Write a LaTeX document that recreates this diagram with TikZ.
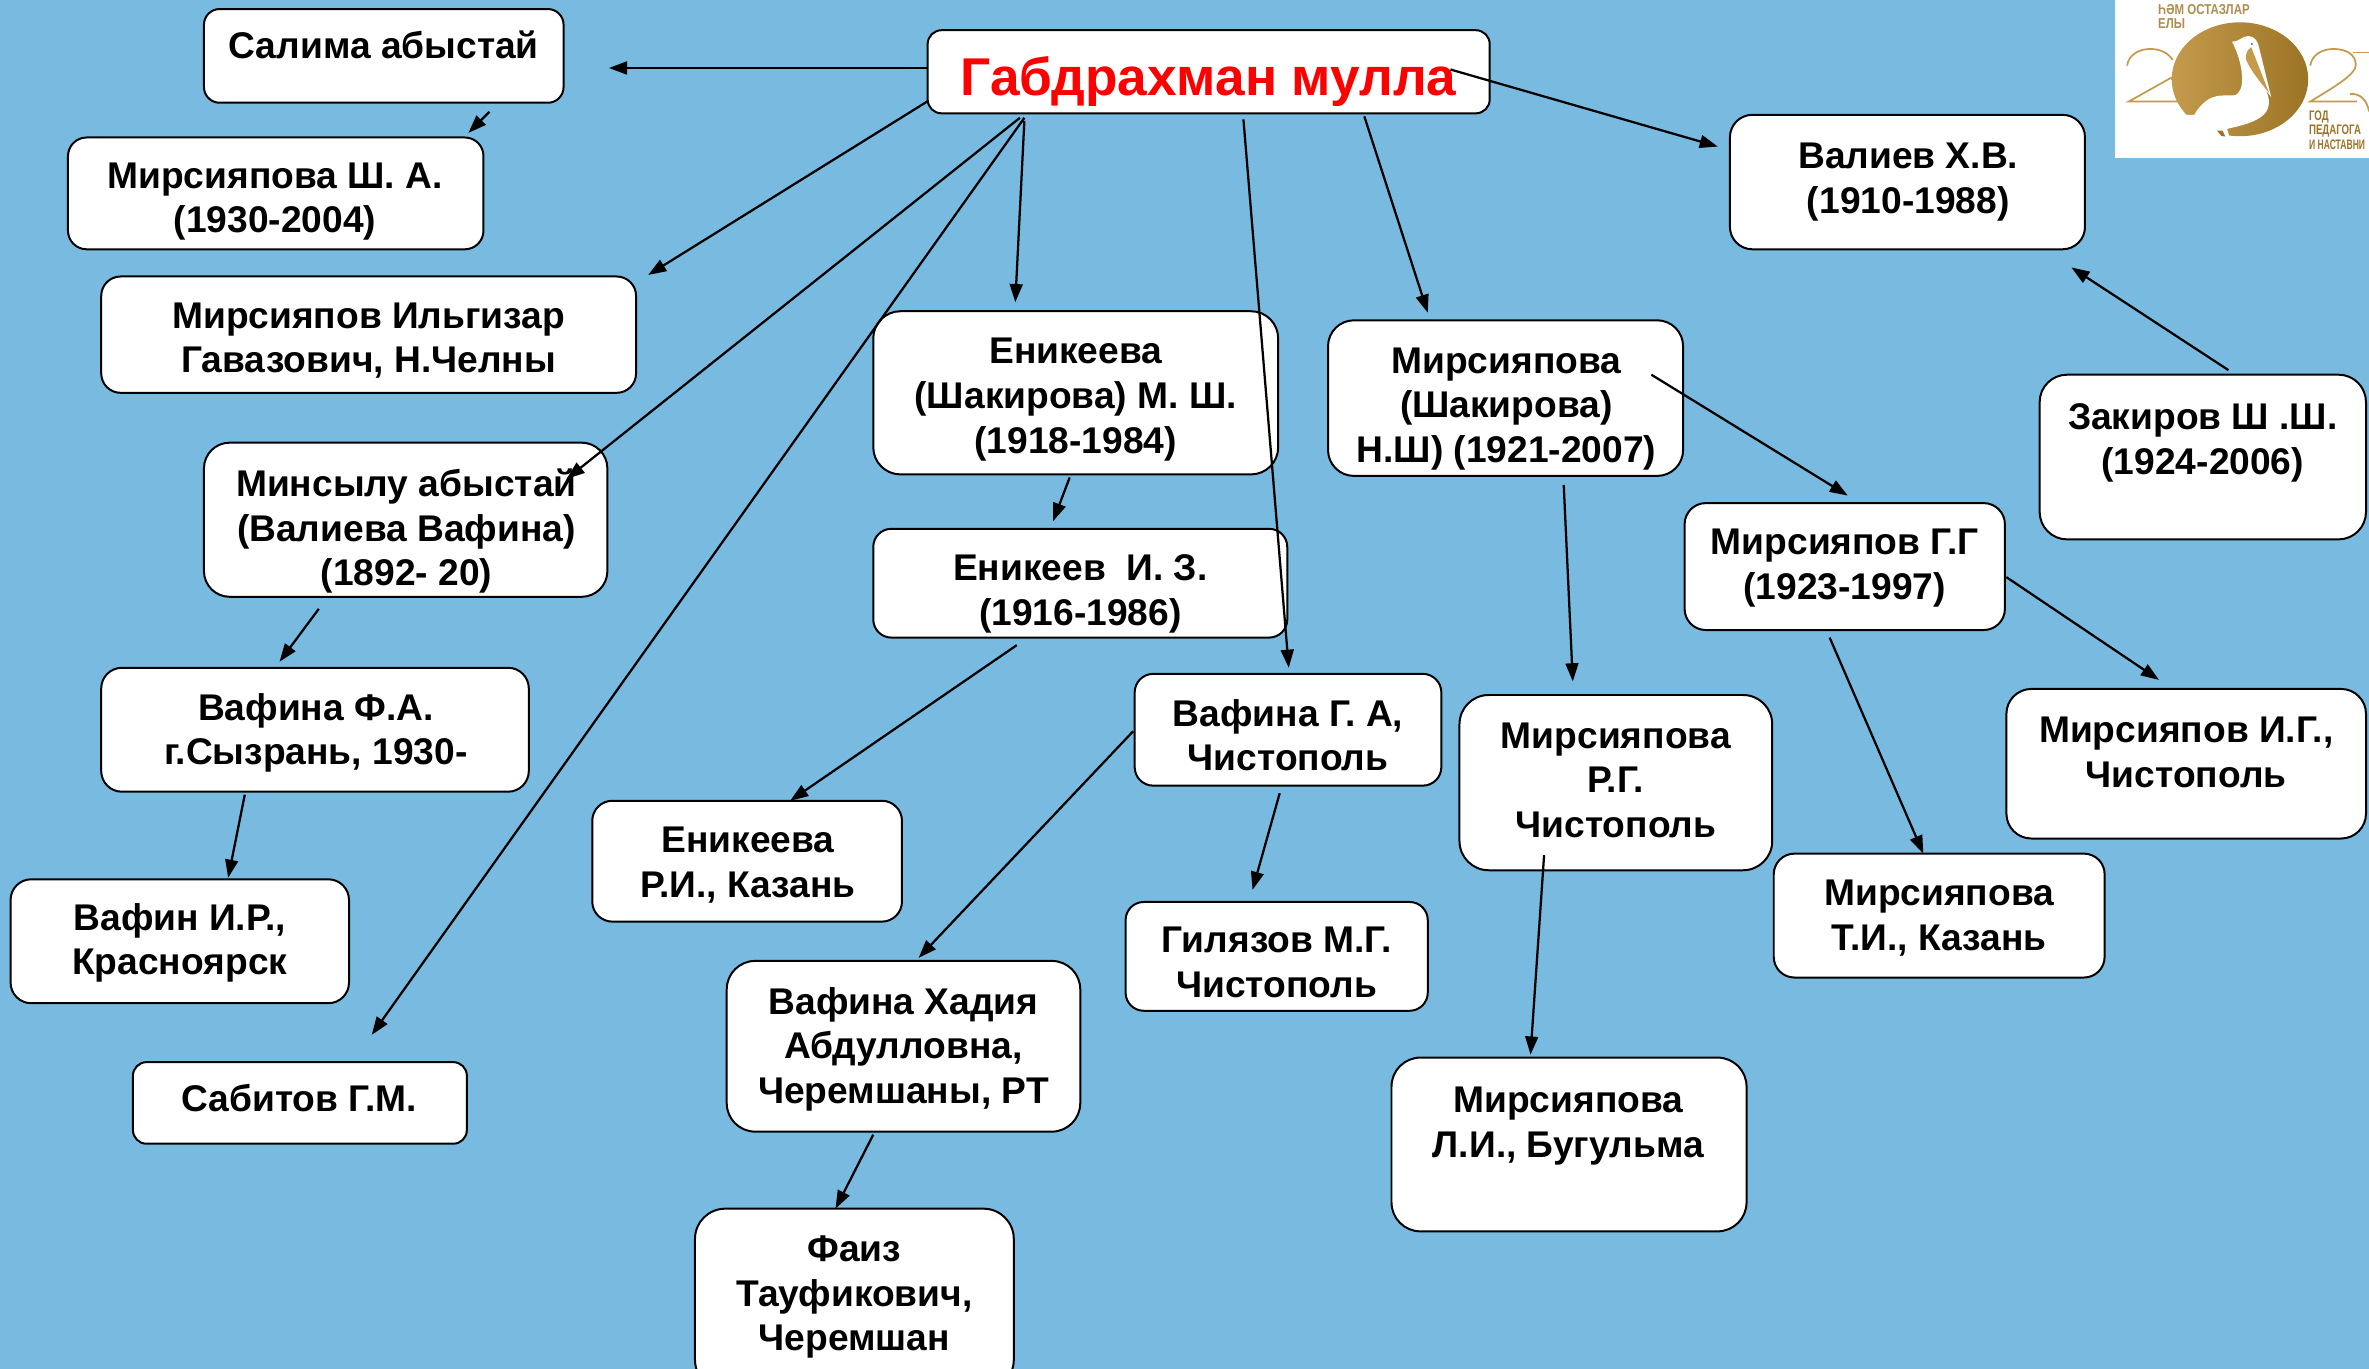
\documentclass[tikz,border=0pt]{standalone}
\usepackage{fontspec}
\setmainfont{Liberation Sans}
\newfontfamily\lgfa[FakeStretch=0.8]{Liberation Sans}
\newfontfamily\lgfb[FakeStretch=0.7]{Liberation Sans}
\newfontfamily\lgfc[FakeStretch=0.62]{Liberation Sans}
\usetikzlibrary{arrows.meta,calc}
\definecolor{bgblue}{HTML}{79BBE0}
\definecolor{goldA}{HTML}{C49B4C}
\definecolor{goldB}{HTML}{9C7426}
\definecolor{goldT}{HTML}{AD8D50}
\tikzset{
  boxn/.style={draw=black,line width=0.75pt,fill=white,inner sep=0pt},
  txtn/.style={font=\fontsize{14}{16.8}\selectfont\bfseries,align=center,inner sep=0pt,text=black},
  titlen/.style={font=\fontsize{20.03}{24}\selectfont\bfseries,align=center,inner sep=0pt,text=red},
  arr/.style={draw=black,line width=0.85pt,-{Triangle[length=0.24cm,width=0.17cm]}},
  logot/.style={font=\lgfa\fontsize{5.4}{6}\selectfont\bfseries,text=goldT,anchor=west,inner sep=0pt},
  logos/.style={font=\lgfb\fontsize{5.2}{6}\selectfont\bfseries,text=goldB,anchor=west,inner sep=0pt},
  logon/.style={font=\lgfc\fontsize{5.2}{6}\selectfont\bfseries,text=goldB,anchor=west,inner sep=0pt},
  logol/.style={draw=goldA,line width=0.65pt}
}
% name, x0,y0,x1,y1, text x, text y, text
\newcommand{\bx}[8]{%
  \pgfmathsetmacro{\bw}{(#4-#2)*0.02}%
  \pgfmathsetmacro{\bh}{(#5-#3)*0.02}%
  \pgfmathsetmacro{\brad}{min(\bw,\bh)/6}%
  \node[boxn,minimum width=\bw cm,minimum height=\bh cm,rounded corners=\brad cm] (#1) at ({(#2+#4)/2},{(#3+#5)/2}) {};
  \node[txtn] (#1-t) at (#6,#7) {#8};
}
% from node, dx, dy, to node, dx, dy
\newcommand{\cn}[6]{\draw[arr] ([shift={(#2,#3)}]#1.center) -- ([shift={(#5,#6)}]#4.center);}
\begin{document}
\begin{tikzpicture}[x=0.02cm,y=-0.02cm]
\clip (0,0) rectangle (1568,906);
\fill[bgblue] (0,0) rectangle (1568,906);

\bx{salima}{135}{6}{373}{68}{254}{30}{Салима абыстай}
\bx{mirsh}{45}{91}{320}{165}{182}{133.5}{Мирсияпова Ш. А.\\(1930-2004)}
\bx{ilgiz}{67}{183}{421}{260}{244}{225.5}{Мирсияпов Ильгизар\\Гавазович, Н.Челны}
\bx{minsylu}{135}{293}{402}{395}{269}{351.5}{Минсылу абыстай\\(Валиева Вафина)\\(1892- 20)}
\bx{vafinaF}{67}{442}{350}{524}{209}{485}{Вафина Ф.А.\\г.Сызрань, 1930-}
\bx{vafinI}{7}{582}{231}{664}{119}{624}{Вафин И.Р.,\\Красноярск}
\bx{sabitov}{88}{703}{309}{757}{198}{727}{Сабитов Г.М.}
\bx{root}{614}{20}{986}{75}{800}{54}{}
\node[titlen] (root-t) at (800,54) {Габдрахман мулла};
\bx{enikeeva}{578}{206}{846}{314}{712}{264.5}{Еникеева\\(Шакирова) М. Ш.\\(1918-1984)}
\bx{enikeev}{578}{350}{852}{422}{715}{393}{Еникеев\ \ И. З.\\(1916-1986)}
\bx{enikeevaR}{392}{530}{597}{610}{495}{572.5}{Еникеева\\Р.И., Казань}
\bx{vafinaG}{751}{446}{954}{520}{852.5}{486.5}{Вафина Г. А,\\Чистополь}
\bx{gilyazov}{745}{597}{945}{669}{845}{637}{Гилязов М.Г.\\Чистополь}
\bx{vafinaH}{481}{636}{715}{749}{598}{694.5}{Вафина Хадия\\Абдулловна,\\Черемшаны, РТ}
\bx{faiz}{460}{800}{671}{920}{565.5}{858.5}{Фаиз\\Тауфикович,\\Черемшан}
\bx{mirsN}{879}{212}{1114}{315}{997}{270.5}{Мирсияпова\\(Шакирова)\\Н.Ш) (1921-2007)}
\bx{mirsRG}{966}{460}{1173}{576}{1069.5}{516.5}{Мирсияпова\\Р.Г.\\Чистополь}
\bx{mirsLI}{921}{700}{1156}{815}{1038}{745.5}{Мирсияпова\\Л.И., Бугульма}
\bx{mirsG}{1115}{333}{1327}{417}{1221}{376}{Мирсияпов Г.Г\\(1923-1997)}
\bx{mirsIG}{1328}{456}{1566}{555}{1447}{498}{Мирсияпов И.Г.,\\Чистополь}
\bx{mirsTI}{1174}{565}{1393}{647}{1283.5}{607.5}{Мирсияпова\\Т.И., Казань}
\bx{valiev}{1145}{76}{1380}{165}{1263}{120.5}{Валиев Х.В.\\(1910-1988)}
\bx{zakirov}{1350}{248}{1566}{357}{1458}{293}{Закиров Ш .Ш.\\(1924-2006)}

\cn{root}{-186}{-2.5}{salima}{149}{8}
\cn{salima}{70}{37}{mirsh}{127.5}{-40}
\cn{root}{-186}{19.5}{ilgiz}{185}{-39.5}
\cn{root}{-125}{30.5}{minsylu}{106.5}{-27}
\cn{root}{-122}{30.5}{sabitov}{47.5}{-45}
\cn{root}{-122}{32.5}{enikeeva}{-40}{-60}
\cn{root}{23}{31.5}{vafinaG}{.5}{-41}
\cn{root}{103}{29.5}{mirsN}{-51.5}{-56.5}
\cn{root}{160}{-1.5}{valiev}{-125.5}{-23.5}
\cn{enikeeva}{-4}{56}{enikeev}{-18}{-41}
\cn{enikeev}{-42}{41}{enikeevaR}{28.5}{-40}
\cn{minsylu}{-57.5}{59}{vafinaF}{-23.5}{-45}
\cn{vafinaF}{-46.5}{43}{vafinI}{32}{-42}
\cn{vafinaG}{-102.5}{1}{vafinaH}{10}{-58.5}
\cn{vafinaG}{-5.5}{42}{gilyazov}{-16}{-44}
\cn{vafinaH}{-20}{58.5}{faiz}{-12.5}{-60}
\cn{mirsN}{38.5}{57.5}{mirsRG}{-28.5}{-67}
\cn{mirsN}{96.5}{-15.5}{mirsG}{2}{-47}
\cn{mirsRG}{-47.5}{48}{mirsLI}{-25.5}{-59.5}
\cn{mirsG}{107}{7}{mirsIG}{-18}{-55.5}
\cn{mirsG}{-10}{47}{mirsTI}{-10.5}{-41}
\cn{zakirov}{17}{-57.5}{valiev}{108.5}{56.5}

% logo: coordinates are those of a 3x crop of its corner
\begin{scope}[xshift=28.008cm,x=0.004412cm,y=-0.004412cm]
\fill[white] (0,-5) rectangle (800,473);
\draw[logol] (35,197) .. controls (40,165) and (70,147) .. (105,147) .. controls (135,147) and (160,160) .. (172,180);
\draw[logol] (170,232) -- (40,305) -- (205,305);
\draw[logol] (585,197) .. controls (590,165) and (620,147) .. (655,147) .. controls (695,147) and (722,165) .. (722,195) .. controls (722,225) and (650,265) .. (585,305) -- (725,305);
\draw[logol] (712,158) -- (770,158);
\draw[logol] (705,282) .. controls (735,280) and (755,300) .. (762,335);
\shade[left color=goldA,right color=goldB] (374,238) ellipse [x radius=205,y radius=171];
% white cut at the lower left of the disc and the bird
\fill[white] (235,345) -- (195,345) -- (200,420) -- (345,420) -- (335,385) -- cycle;
\fill[white] (350,125) .. controls (368,128) and (380,108) .. (400,108) .. controls (420,110) and (428,125) .. (432,145) -- (468,292) -- (452,270) .. controls (465,300) and (465,325) .. (445,345) .. controls (420,368) and (375,378) .. (335,387) -- (300,378) -- (218,398) .. controls (225,360) and (245,320) .. (280,298) .. controls (310,280) and (345,290) .. (362,285) .. controls (385,270) and (385,230) .. (372,180) .. controls (365,155) and (358,140) .. (350,125) -- cycle;
\fill[goldA] (392,178) .. controls (390,160) and (398,148) .. (408,142) -- (462,280) .. controls (430,240) and (405,210) .. (392,178) -- cycle;
\draw[white,line width=0.5pt] (416,142) -- (458,262);
\fill[black!70] (410,132) circle (3);
\fill[goldB] (305,392) -- (322,392) -- (330,410) -- (318,408) -- cycle;
\node[logot] (lg1) at (127,30) {ҺӘМ ОСТАЗЛАР};
\node[logot] (lg2) at (127,72) {ЕЛЫ};
\node[logos] (lg3) at (580,352) {ГОД};
\node[logos] (lg4) at (580,395) {ПЕДАГОГА};
\node[logon] (lg5) at (580,435) {И НАСТАВНИ};
\end{scope}
\end{tikzpicture}
\end{document}
